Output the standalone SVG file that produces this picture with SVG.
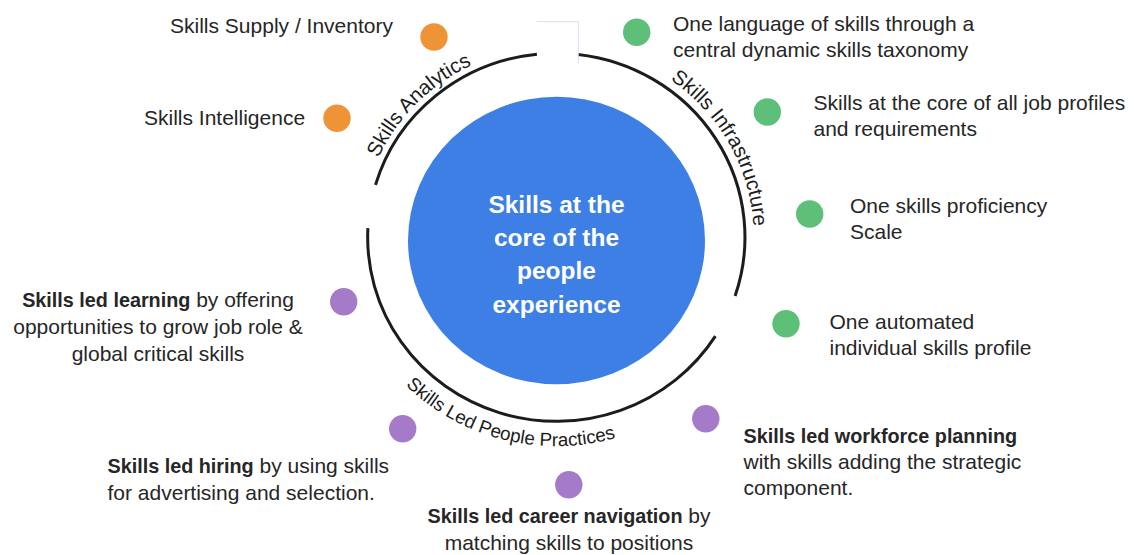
<svg xmlns="http://www.w3.org/2000/svg" width="1135" height="555" viewBox="0 0 1135 555">
  <style>
    .lbl { font-family: "Liberation Sans", Arial, sans-serif; font-size: 21px; fill: #262626; }
    .b { font-weight: 700; font-size: 19.8px; }
    .mid { text-anchor: middle; }
    .ring { fill: none; stroke: #1c1c1c; stroke-width: 3; stroke-linecap: butt; }
    .arc-lbl { font-family: "Liberation Sans", Arial, sans-serif; fill: #1c1c1c; text-anchor: middle; }
    .core { font-family: "Liberation Sans", Arial, sans-serif; font-size: 24.5px; font-weight: 700; fill: #ffffff; text-anchor: middle; }
    .dot-o { fill: #EE9436; }
    .dot-g { fill: #5DBF78; }
    .dot-p { fill: #A57BC9; }
  </style>
  <defs>
    <!-- baselines for the curved pillar labels -->
    <path id="pAnalytics" d="M 368.3 289.8 A 195.6 191 0 0 1 603.6 51.9"/>
    <path id="pInfra" d="M 560.8 44.3 A 197.6 193 0 0 1 725.1 337.5"/>
    <path id="pPractices" d="M 350.5 293.0 A 213.6 209 0 0 0 708.7 383.7"/>
  </defs>

  <rect width="1135" height="555" fill="#ffffff"/>

  <!-- central hub -->
  <g id="core">
    <ellipse cx="556.5" cy="240.5" rx="148.5" ry="143.8" fill="#3D7FE5"/>
    <text class="core" x="556.5" y="213">Skills at the</text>
    <text class="core" x="556.5" y="246.2">core of the</text>
    <text class="core" x="556.5" y="279.4">people</text>
    <text class="core" x="556.5" y="312.6">experience</text>
  </g>

  <!-- outer ring, split into three pillars -->
  <g id="connectors">
    <path id="arc-analytics" class="ring" d="M 375.5 184.9 A 188.6 184 0 0 1 536.9 54.2"/>
    <path id="arc-infra" class="ring" d="M 578.0 54.4 A 188.6 184 0 0 1 735.1 295.9"/>
    <path id="arc-practices" class="ring" d="M 715.4 336.1 A 188.6 184 0 0 1 367.9 228.2"/>
    <polyline points="536.7,21.7 578.3,21.7 578.3,63.3" fill="none" stroke="#d9e0ef" stroke-width="1"/>
  </g>

  <g id="pillar-analytics">
    <text class="arc-lbl" font-size="20.5"><textPath href="#pAnalytics" startOffset="50%">Skills Analytics</textPath></text>
  </g>
  <g id="pillar-infrastructure">
    <text class="arc-lbl" font-size="20.5"><textPath href="#pInfra" startOffset="50%">Skills Infrastructure</textPath></text>
  </g>
  <g id="pillar-practices">
    <text class="arc-lbl" font-size="18.8"><textPath href="#pPractices" startOffset="50%">Skills Led People Practices</textPath></text>
  </g>

  <!-- analytics items -->
  <g id="supply">
    <circle class="dot-o" cx="434" cy="37" r="13.7"/>
    <text class="lbl" x="170" y="33">Skills Supply / Inventory</text>
  </g>
  <g id="intelligence">
    <circle class="dot-o" cx="337" cy="118.3" r="13.7"/>
    <text class="lbl" x="144" y="125">Skills Intelligence</text>
  </g>

  <!-- infrastructure items -->
  <g id="taxonomy">
    <circle class="dot-g" cx="636.7" cy="32.3" r="13.7"/>
    <text class="lbl" x="673" y="30.7">One language of skills through a</text>
    <text class="lbl" x="673" y="56.7">central dynamic skills taxonomy</text>
  </g>
  <g id="job-profiles">
    <circle class="dot-g" cx="767.3" cy="112" r="13.7"/>
    <text class="lbl" x="813.5" y="110">Skills at the core of all job profiles</text>
    <text class="lbl" x="813.5" y="136">and requirements</text>
  </g>
  <g id="proficiency">
    <circle class="dot-g" cx="809.7" cy="214" r="13.7"/>
    <text class="lbl" x="850" y="213.3">One skills proficiency</text>
    <text class="lbl" x="850" y="239.3">Scale</text>
  </g>
  <g id="skills-profile">
    <circle class="dot-g" cx="786" cy="323.7" r="13.7"/>
    <text class="lbl" x="829.5" y="329.3">One automated</text>
    <text class="lbl" x="829.5" y="355">individual skills profile</text>
  </g>

  <!-- people practice items -->
  <g id="learning">
    <circle class="dot-p" cx="343.7" cy="301.7" r="13.7"/>
    <text class="lbl mid" x="158" y="307.3"><tspan class="b">Skills led learning</tspan> by offering</text>
    <text class="lbl mid" x="158" y="334">opportunities to grow job role &amp;</text>
    <text class="lbl mid" x="158" y="360.5">global critical skills</text>
  </g>
  <g id="hiring">
    <circle class="dot-p" cx="402.7" cy="428.7" r="13.7"/>
    <text class="lbl" x="107.5" y="472.7"><tspan class="b">Skills led hiring</tspan> by using skills</text>
    <text class="lbl" x="107.5" y="499.5">for advertising and selection.</text>
  </g>
  <g id="career">
    <circle class="dot-p" cx="568.8" cy="484.7" r="13.7"/>
    <text class="lbl mid" x="569" y="523.3"><tspan class="b">Skills led career navigation</tspan> by</text>
    <text class="lbl mid" x="569" y="550">matching skills to positions</text>
  </g>
  <g id="workforce">
    <circle class="dot-p" cx="705.8" cy="418.7" r="13.7"/>
    <text class="lbl b" x="743.5" y="442.7">Skills led workforce planning</text>
    <text class="lbl" x="743.5" y="469">with skills adding the strategic</text>
    <text class="lbl" x="743.5" y="495.3">component.</text>
  </g>
</svg>
